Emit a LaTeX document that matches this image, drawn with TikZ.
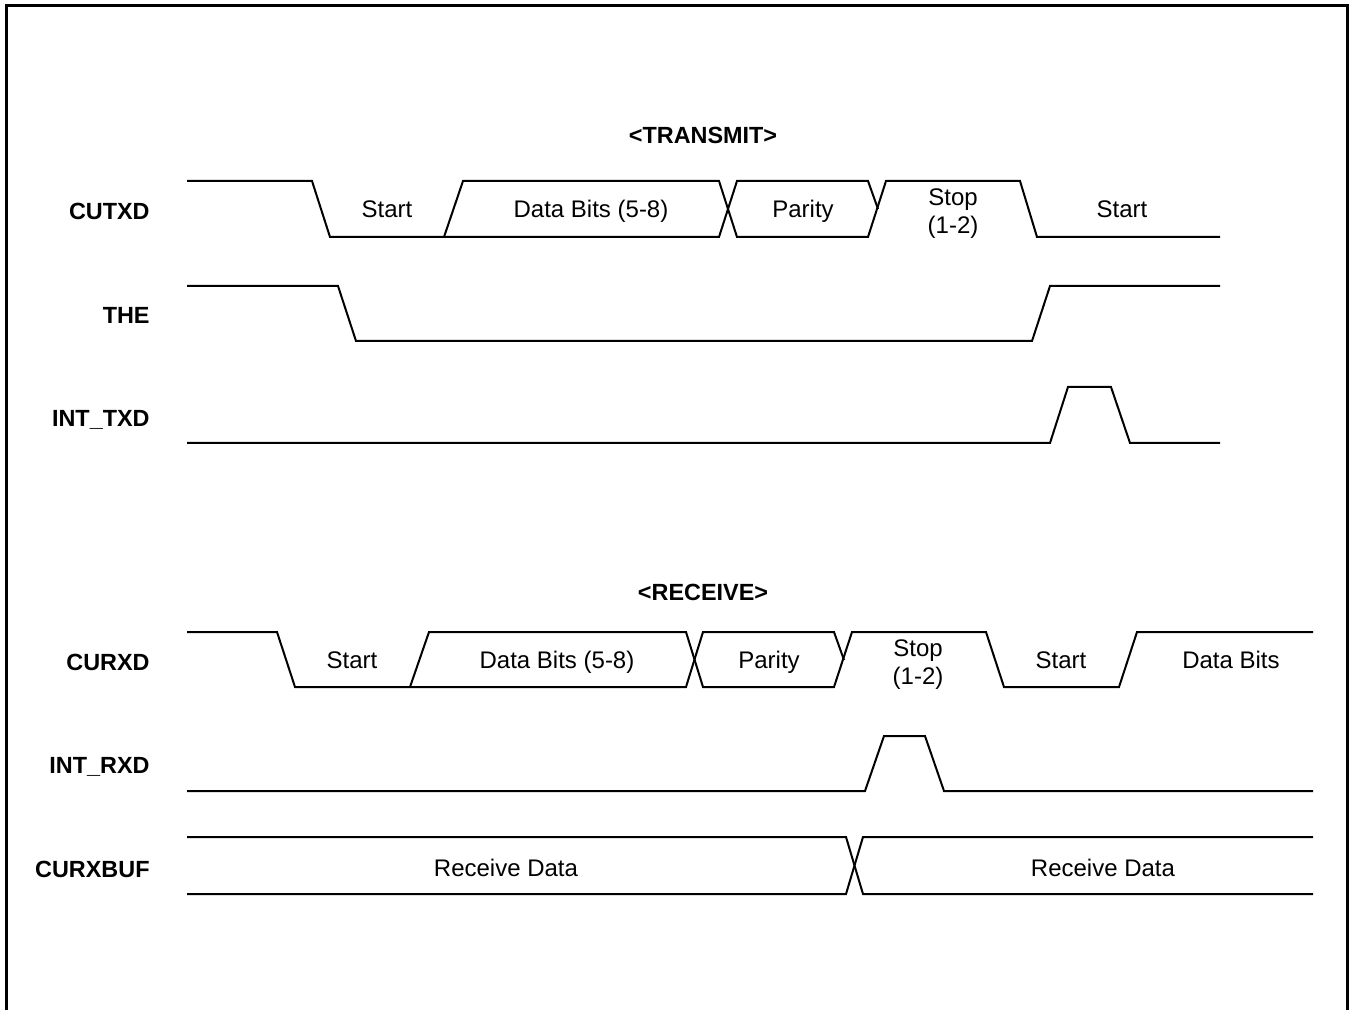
\documentclass[tikz,border=0pt]{standalone}
\usepackage{fontspec}
\setmainfont{Liberation Sans}
\usepackage{tikz}
\usetikzlibrary{
    positioning
}

\begin{document}
\begin{tikzpicture}[
    x=0.5pt,
    y=-0.5pt,
    wave/.style={
        line width=1pt,
        line join=miter
    },
    frame/.style={line width=1.5pt},
    siglabel/.style={
        font=\fontsize{11.7}{14}\selectfont\bfseries,
        anchor=east,
        inner sep=0pt,
        text height=8.4pt,
        text depth=0pt
    },
    heading/.style={
        font=\fontsize{11.7}{14}\selectfont\bfseries,
        inner sep=0pt,
        text height=8.4pt,
        text depth=0pt
    },
    field/.style={
        font=\fontsize{12}{14}\selectfont,
        inner sep=0pt,
        text height=8.6pt,
        text depth=0pt
    }
]

\useasboundingbox (0,0) rectangle (1350,1010);
\draw[frame] (6,1015) -- (6,6) -- (1347,6) -- (1347,1015);

% transmit
\node[heading] (transmit) at (703,135) {<TRANSMIT>};

\node[siglabel] (cutxd) at (150,211) {CUTXD};
\node[siglabel] (the) at (150,315) {THE};
\node[siglabel] (inttxd) at (150,418) {INT\_TXD};

\draw[wave] (187,181) -- (312,181) -- (330,237) -- (719,237) -- (737,181) -- (868,181) -- (878,209);
\draw[wave] (444,237) -- (463,181) -- (719,181) -- (737,237) -- (868,237) -- (886,181)
    -- (1020,181) -- (1037,237) -- (1220,237);
\draw[wave] (187,286) -- (338,286) -- (356,341) -- (1032,341) -- (1050,286) -- (1220,286);
\draw[wave] (187,443) -- (1050,443) -- (1068,387) -- (1111,387) -- (1130,443) -- (1220,443);

\node[field] (txstart) at (387,209) {Start};
\node[field] (txdata) at (591,209) {Data Bits (5-8)};
\node[field] (txparity) at (803,209) {Parity};
\node[field] (txstop) at (953,197) {Stop};
\node[field] (txstopn) at (953,225) {(1-2)};
\node[field] (txnext) at (1122,209) {Start};

% receive
\node[heading] (receive) at (703,592) {<RECEIVE>};

\node[siglabel] (curxd) at (150,662) {CURXD};
\node[siglabel] (intrxd) at (150,765) {INT\_RXD};
\node[siglabel] (curxbuf) at (150,869) {CURXBUF};

\draw[wave] (187,632) -- (277,632) -- (295,687) -- (686,687) -- (703,632) -- (834,632) -- (844,660);
\draw[wave] (410,687) -- (429,632) -- (686,632) -- (703,687) -- (834,687) -- (852,632)
    -- (986,632) -- (1004,687) -- (1119,687) -- (1137,632) -- (1313,632);
\draw[wave] (187,791) -- (865,791) -- (884,736) -- (925,736) -- (944,791) -- (1313,791);
\draw[wave] (187,837) -- (846,837) -- (863,894) -- (1313,894);
\draw[wave] (187,894) -- (846,894) -- (863,837) -- (1313,837);

\node[field] (rxstart) at (352,660) {Start};
\node[field] (rxdata) at (557,660) {Data Bits (5-8)};
\node[field] (rxparity) at (769,660) {Parity};
\node[field] (rxstop) at (918,648) {Stop};
\node[field] (rxstopn) at (918,676) {(1-2)};
\node[field] (rxnext) at (1061,660) {Start};
\node[field] (rxnextdata) at (1231,660) {Data Bits};
\node[field] (bufold) at (506,868) {Receive Data};
\node[field] (bufnew) at (1103,868) {Receive Data};

\end{tikzpicture}
\end{document}
